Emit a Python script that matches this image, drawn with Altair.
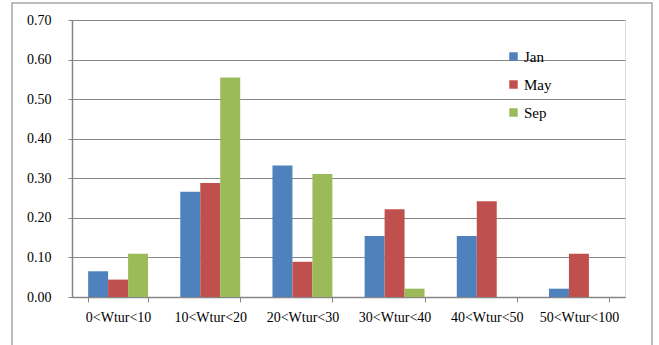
import altair as alt
import pandas as pd

# Share of observations per Wtur class, by month
categories = ["0<Wtur<10", "10<Wtur<20", "20<Wtur<30", "30<Wtur<40", "40<Wtur<50", "50<Wtur<100"]
months = ["Jan", "May", "Sep"]
jan = [0.065, 0.266, 0.332, 0.154, 0.154, 0.021]
may = [0.044, 0.288, 0.089, 0.222, 0.242, 0.109]
sep = [0.109, 0.555, 0.311, 0.021, 0.0, 0.0]
colors = ["#4F81BD", "#C0504D", "#9BBB59"]

rows = []
for month, vals in zip(months, [jan, may, sep]):
    for cat, v in zip(categories, vals):
        rows.append({"cls": cat, "month": month, "value": v})
df = pd.DataFrame(rows)

FONT = "Liberation Serif"
GRAY = "#868686"

bars = alt.Chart(df).mark_bar().encode(
    x=alt.X(
        "cls:N",
        sort=categories,
        title=None,
        scale=alt.Scale(paddingInner=0.35, paddingOuter=0.175),
        axis=alt.Axis(
            labelAngle=0,
            labelFont=FONT,
            labelFontSize=14,
            labelColor="#000000",
            labelPadding=8,
            tickBand="extent",
            tickSize=5,
            tickColor=GRAY,
            domainColor=GRAY,
            domainWidth=1.5,
            grid=False,
        ),
    ),
    xOffset=alt.XOffset("month:N", sort=months),
    y=alt.Y(
        "value:Q",
        title=None,
        scale=alt.Scale(domain=[0, 0.7], nice=False),
        axis=alt.Axis(
            values=[0, 0.1, 0.2, 0.3, 0.4, 0.5, 0.6, 0.7],
            format=".2f",
            labelFont=FONT,
            labelFontSize=14,
            labelColor="#000000",
            labelPadding=17,
            tickSize=4,
            tickColor=GRAY,
            domainColor=GRAY,
            domainWidth=1.5,
            gridColor=GRAY,
            gridWidth=1,
        ),
    ),
    color=alt.Color(
        "month:N",
        sort=months,
        scale=alt.Scale(domain=months, range=colors),
        legend=alt.Legend(
            title=None,
            orient="none",
            legendX=434,
            legendY=29,
            symbolType="square",
            symbolSize=72,
            symbolStrokeWidth=0,
            labelFont=FONT,
            labelFontSize=15,
            labelColor="#000000",
            labelOffset=3,
            rowPadding=12,
        ),
    ),
)

# outer frame around the chart
frame = alt.Chart(pd.DataFrame({"k": [0]})).mark_rect(
    fill=None, stroke="#A6A6A6", strokeWidth=1.5
).encode(
    x=alt.value(-60), x2=alt.value(580), y=alt.value(-17), y2=alt.value(360)
)

chart = alt.layer(bars, frame).properties(
    width=553,
    height=277,
    autosize=alt.AutoSizeParams(type="none"),
    padding={"left": 72, "top": 20, "right": 34, "bottom": 48},
).configure_view(stroke=None).configure(background="white")

chart.save("out.html", embed_options={"renderer": "svg", "actions": False})
